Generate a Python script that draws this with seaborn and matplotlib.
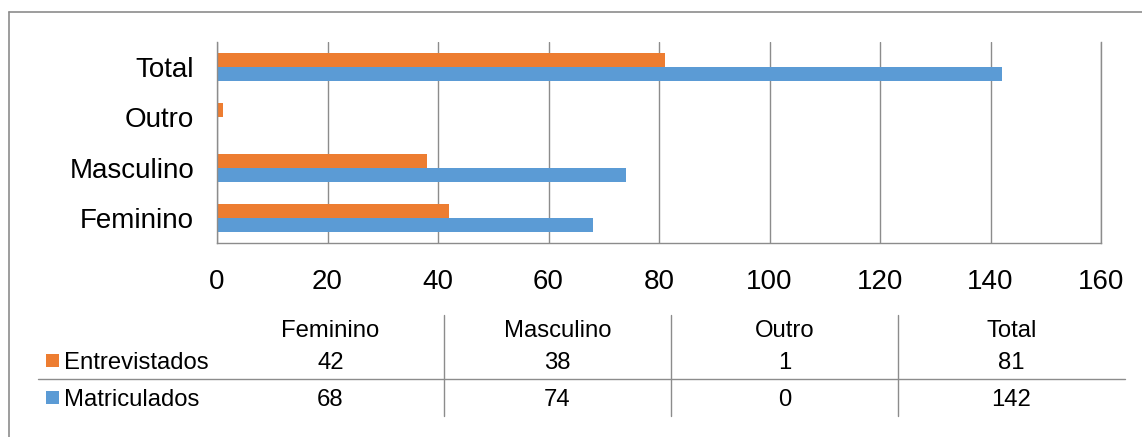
import matplotlib
matplotlib.use("Agg")
import matplotlib.pyplot as plt
import seaborn as sns
import pandas as pd
from matplotlib.lines import Line2D
from matplotlib.patches import Rectangle

# Dados
categorias = ["Feminino", "Masculino", "Outro", "Total"]
entrevistados = [42, 38, 1, 81]
matriculados = [68, 74, 0, 142]
series = ["Entrevistados", "Matriculados"]
cores = ["#ED7D31", "#5B9BD5"]
x_ticks = [0, 20, 40, 60, 80, 100, 120, 140, 160]

sns.set_theme(style="white")
plt.rcParams["font.family"] = ["Liberation Sans", "DejaVu Sans"]
plt.rcParams["text.color"] = "black"

W, H = 1142, 437
fig = plt.figure(figsize=(W / 100, H / 100), dpi=100)


def fx(px):
    return px / W


def fy(py):
    return 1 - py / H


GRAY = "#8c8c8c"

# Gráfico de barras horizontais
ax = fig.add_axes([fx(217), fy(243), fx(1101) - fx(217), fy(42) - fy(243)])
df = pd.DataFrame({
    "categoria": categorias * 2,
    "valor": entrevistados + matriculados,
    "serie": [series[0]] * len(categorias) + [series[1]] * len(categorias),
})
sns.barplot(data=df, x="valor", y="categoria", hue="serie",
            order=categorias[::-1], hue_order=series, palette=cores,
            orient="h", width=0.56, linewidth=0, saturation=1,
            errorbar=None, legend=False, ax=ax)

ax.set_xlim(x_ticks[0], x_ticks[-1])
ax.set_ylim(3.5, -0.5)
ax.set_xticks(x_ticks)
ax.set_xticklabels([str(t) for t in x_ticks])
ax.set_xlabel("")
ax.set_ylabel("")
ax.grid(axis="x", color=GRAY, linewidth=1.0)
ax.grid(axis="y", visible=False)
ax.set_axisbelow(True)
for side in ["left", "right", "bottom"]:
    ax.spines[side].set_visible(True)
    ax.spines[side].set_color(GRAY)
    ax.spines[side].set_linewidth(1.0)
ax.spines["top"].set_visible(False)
ax.tick_params(axis="x", length=0, pad=18.5, labelsize=20, labelcolor="black")
ax.tick_params(axis="y", length=0, pad=16.5, labelsize=20, labelcolor="black")

# Tabela de dados
col_left = 217
col_w = 227
fs_tab = 17.2
y_header, y_row1, y_row2 = 337, 369, 406
for i, cat in enumerate(categorias):
    cx = col_left + col_w * (i + 0.5)
    fig.text(fx(cx), fy(y_header), cat, ha="center", va="baseline", fontsize=fs_tab)
    fig.text(fx(cx), fy(y_row1), str(entrevistados[i]), ha="center", va="baseline", fontsize=fs_tab)
    fig.text(fx(cx), fy(y_row2), str(matriculados[i]), ha="center", va="baseline", fontsize=fs_tab)

for nome, cor, yb, ysq in [(series[0], cores[0], y_row1, 354), (series[1], cores[1], y_row2, 391)]:
    fig.add_artist(Rectangle((fx(46), fy(ysq + 13)), fx(13), fy(ysq) - fy(ysq + 13),
                             facecolor=cor, edgecolor="none", transform=fig.transFigure))
    fig.text(fx(64), fy(yb), nome, ha="left", va="baseline", fontsize=fs_tab)

fig.add_artist(Line2D([fx(38), fx(1125)], [fy(379), fy(379)], color=GRAY, lw=1.0,
                      transform=fig.transFigure))
for i in range(1, len(categorias)):
    xs = col_left + col_w * i
    fig.add_artist(Line2D([fx(xs), fx(xs)], [fy(315), fy(416)], color=GRAY, lw=1.0,
                          transform=fig.transFigure))

# Moldura
fig.add_artist(Line2D([fx(9), fx(W)], [fy(12), fy(12)], color=GRAY, lw=1.2,
                      transform=fig.transFigure))
fig.add_artist(Line2D([fx(9), fx(9)], [fy(12), fy(H)], color=GRAY, lw=1.2,
                      transform=fig.transFigure))

fig.savefig("out.png", dpi=100)
